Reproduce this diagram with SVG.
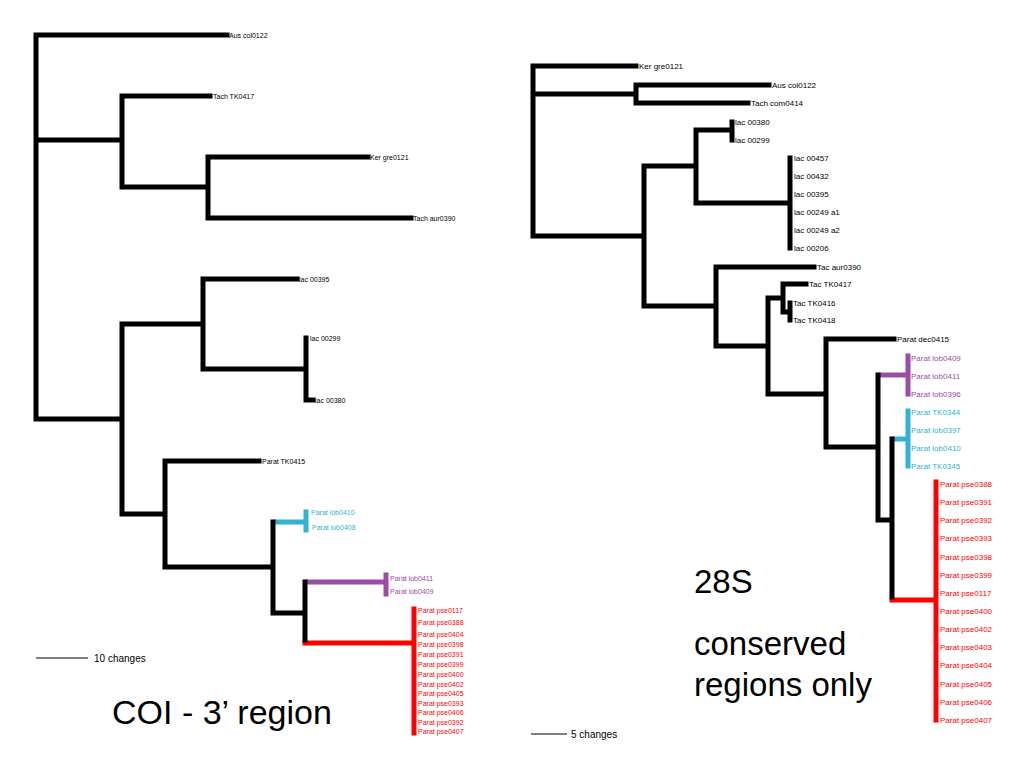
<svg xmlns="http://www.w3.org/2000/svg" width="1024" height="768" viewBox="0 0 1024 768">
<style>
.b{fill:none;stroke-width:5;stroke-linecap:square}
.k{stroke:#000}.c{stroke:#33b2d1}.p{stroke:#9b4ca6}.r{stroke:#ff0000}
text{font-family:"Liberation Sans",Arial,sans-serif;dominant-baseline:central}
.s{font-size:7px}.m{font-size:8px}
.tk{fill:#000}.tc{fill:#33b2d1}.tp{fill:#9b4ca6}.tr{fill:#ff0000}
.big{font-size:33px;fill:#000;dominant-baseline:alphabetic}
.sc{font-size:10px;fill:#000}
</style>
<rect width="1024" height="768" fill="#fff"/>
<g id="connectors">
<path class="b c" d="M276,522H306 M306,512V530"/>
<path class="b p" d="M308,582H386 M386,575V594"/>
<path class="b r" d="M305,643H414 M414,609V733"/>
<path class="b k" d="M36,35V419 M36,35H227 M36,140H122 M122,96V187 M122,96H210 M122,187H208 M208,157V218 M208,157H368 M208,218H411 M36,419H122 M122,324V514 M122,324H203 M203,279V369 M203,279H297 M203,369H306 M306,338V400 M306,400H313 M122,514H165 M165,461V567 M165,461H259 M165,567H273 M273,522V613 M273,613H305 M305,582V640"/>
<path class="b p" d="M881,375H908 M908,356V394"/>
<path class="b c" d="M895,439H908 M908,411V466"/>
<path class="b r" d="M892,600H936 M936,482V720"/>
<path class="b k" d="M533,66V236 M533,66H636 M533,94H636 M636,85V103 M636,85H769 M636,103H748 M533,236H644 M644,166V306 M644,166H696 M696,130V203 M696,130H732 M732,122V140 M696,203H790 M790,158V248 M644,306H716 M716,267V346 M716,267H814 M716,346H768 M768,298V394 M768,298H783 M783,284V312 M783,284H806 M783,312H790 M790,303V320 M768,394H826 M826,339V447 M826,339H894 M826,447H878 M878,375V520 M878,520H892 M892,439V597"/>
<path d="M36,658H88 M531,734H567" stroke="#000" stroke-width="1" fill="none"/>
</g>
<g id="coi-leaves">
<g id="L-aus"><text class="s tk" x="229" y="35">Aus col0122</text></g>
<g id="L-tachtk0417"><text class="s tk" x="213" y="96">Tach TK0417</text></g>
<g id="L-ker"><text class="s tk" x="370" y="157">Ker gre0121</text></g>
<g id="L-tachaur"><text class="s tk" x="413" y="218">Tach aur0390</text></g>
<g id="L-lac00395"><text class="s tk" x="299" y="279">lac 00395</text></g>
<g id="L-lac00299"><text class="s tk" x="310" y="338">lac 00299</text></g>
<g id="L-lac00380"><text class="s tk" x="315" y="400">lac 00380</text></g>
<g id="L-paratTK0415"><text class="s tk" x="262" y="461">Parat TK0415</text></g>
<g id="L-lob0410"><text class="s tc" x="311" y="512">Parat lob0410</text></g>
<g id="L-lob0408"><text class="s tc" x="312" y="527">Parat lob0408</text></g>
<g id="L-lob0411"><text class="s tp" x="390" y="578">Parat lob0411</text></g>
<g id="L-lob0409"><text class="s tp" x="390" y="591">Parat lob0409</text></g>
<g id="L-pse0117"><text class="s tr" x="418" y="610">Parat pse0117</text></g>
<g id="L-pse0388"><text class="s tr" x="418" y="622">Parat pse0388</text></g>
<g id="L-pse0404"><text class="s tr" x="418" y="634">Parat pse0404</text></g>
<g id="L-pse0398"><text class="s tr" x="418" y="644">Parat pse0398</text></g>
<g id="L-pse0391"><text class="s tr" x="418" y="654">Parat pse0391</text></g>
<g id="L-pse0399"><text class="s tr" x="418" y="664">Parat pse0399</text></g>
<g id="L-pse0400"><text class="s tr" x="418" y="674">Parat pse0400</text></g>
<g id="L-pse0402"><text class="s tr" x="418" y="684">Parat pse0402</text></g>
<g id="L-pse0405"><text class="s tr" x="418" y="693">Parat pse0405</text></g>
<g id="L-pse0393"><text class="s tr" x="418" y="703">Parat pse0393</text></g>
<g id="L-pse0406"><text class="s tr" x="418" y="712">Parat pse0406</text></g>
<g id="L-pse0392"><text class="s tr" x="418" y="722">Parat pse0392</text></g>
<g id="L-pse0407"><text class="s tr" x="418" y="731">Parat pse0407</text></g>
</g>
<g id="s28-leaves">
<g id="R-ker"><text class="m tk" x="639" y="66">Ker gre0121</text></g>
<g id="R-aus"><text class="m tk" x="772" y="85">Aus col0122</text></g>
<g id="R-tachcom"><text class="m tk" x="751" y="103">Tach com0414</text></g>
<g id="R-lac00380"><text class="m tk" x="735" y="122">lac 00380</text></g>
<g id="R-lac00299"><text class="m tk" x="735" y="140">lac 00299</text></g>
<g id="R-lac00457"><text class="m tk" x="794" y="158">lac 00457</text></g>
<g id="R-lac00432"><text class="m tk" x="794" y="176">lac 00432</text></g>
<g id="R-lac00395"><text class="m tk" x="794" y="194">lac 00395</text></g>
<g id="R-lac00249a1"><text class="m tk" x="794" y="212">lac 00249 a1</text></g>
<g id="R-lac00249a2"><text class="m tk" x="794" y="230">lac 00249 a2</text></g>
<g id="R-lac00206"><text class="m tk" x="794" y="248">lac 00206</text></g>
<g id="R-tacaur"><text class="m tk" x="817" y="267">Tac aur0390</text></g>
<g id="R-tk0417"><text class="m tk" x="809" y="284">Tac TK0417</text></g>
<g id="R-tk0416"><text class="m tk" x="793" y="303">Tac TK0416</text></g>
<g id="R-tk0418"><text class="m tk" x="793" y="320">Tac TK0418</text></g>
<g id="R-dec0415"><text class="m tk" x="897" y="339">Parat dec0415</text></g>
<g id="R-lob0409"><text class="m tp" x="911" y="358">Parat lob0409</text></g>
<g id="R-lob0411"><text class="m tp" x="911" y="376">Parat lob0411</text></g>
<g id="R-lob0396"><text class="m tp" x="911" y="394">Parat lob0396</text></g>
<g id="R-TK0344"><text class="m tc" x="911" y="412">Parat TK0344</text></g>
<g id="R-lob0397"><text class="m tc" x="911" y="430">Parat lob0397</text></g>
<g id="R-lob0410"><text class="m tc" x="911" y="448">Parat lob0410</text></g>
<g id="R-TK0345"><text class="m tc" x="911" y="466">Parat TK0345</text></g>
<g id="R-pse0388"><text class="m tr" x="940" y="484">Parat pse0388</text></g>
<g id="R-pse0391"><text class="m tr" x="940" y="502">Parat pse0391</text></g>
<g id="R-pse0392"><text class="m tr" x="940" y="520">Parat pse0392</text></g>
<g id="R-pse0393"><text class="m tr" x="940" y="538">Parat pse0393</text></g>
<g id="R-pse0398"><text class="m tr" x="940" y="557">Parat pse0398</text></g>
<g id="R-pse0399"><text class="m tr" x="940" y="575">Parat pse0399</text></g>
<g id="R-pse0117"><text class="m tr" x="940" y="593">Parat pse0117</text></g>
<g id="R-pse0400"><text class="m tr" x="940" y="611">Parat pse0400</text></g>
<g id="R-pse0402"><text class="m tr" x="940" y="629">Parat pse0402</text></g>
<g id="R-pse0403"><text class="m tr" x="940" y="647">Parat pse0403</text></g>
<g id="R-pse0404"><text class="m tr" x="940" y="665">Parat pse0404</text></g>
<g id="R-pse0405"><text class="m tr" x="940" y="684">Parat pse0405</text></g>
<g id="R-pse0406"><text class="m tr" x="940" y="702">Parat pse0406</text></g>
<g id="R-pse0407"><text class="m tr" x="940" y="720">Parat pse0407</text></g>
</g>
<g id="annotations">
<text class="sc" x="94" y="658">10 changes</text>
<text class="sc" x="571" y="734">5 changes</text>
<text class="big" x="112" y="724" style="font-size:34px">COI - 3’ region</text>
<text class="big" x="694" y="593">28S</text>
<text class="big" x="694" y="655">conserved</text>
<text class="big" x="694" y="696">regions only</text>
</g>
</svg>
